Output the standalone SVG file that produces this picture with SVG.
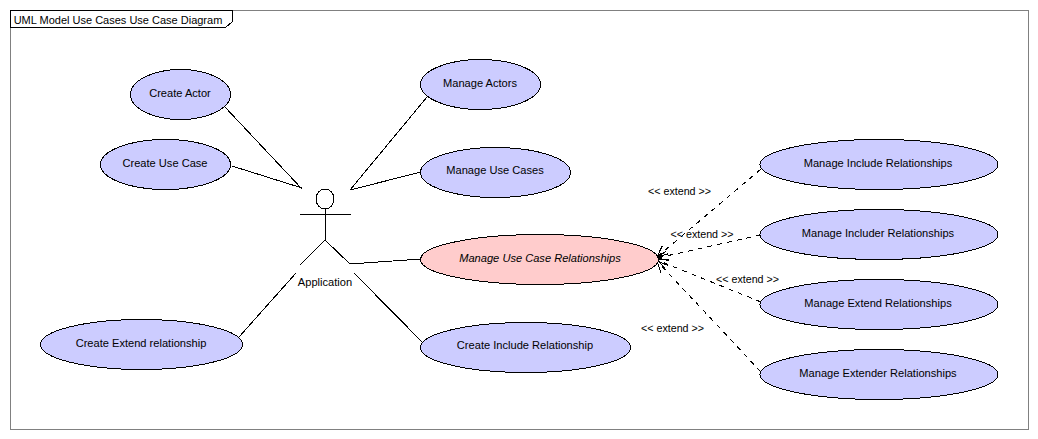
<svg xmlns="http://www.w3.org/2000/svg" width="1038" height="439" viewBox="0 0 1038 439">
<style>
text{font-family:"Liberation Sans",Arial,sans-serif;font-size:11.1px;fill:#000;text-anchor:middle}
.x{font-size:10.7px}
.u{fill:#ccccff;stroke:#000;stroke-width:1;shape-rendering:crispEdges}
.p{fill:#ffcccc;stroke:#000;stroke-width:1;shape-rendering:crispEdges}
.l{fill:none;stroke:#000;stroke-width:1;shape-rendering:crispEdges}
.d{fill:none;stroke:#000;stroke-width:1;stroke-dasharray:5 5;shape-rendering:crispEdges}
</style>
<defs><marker id="a" viewBox="0 0 12 12" refX="11" refY="6" markerWidth="12" markerHeight="12" markerUnits="userSpaceOnUse" orient="auto"><path d="M0 1L11 6L0 11" fill="none" stroke="#000" stroke-width="1" shape-rendering="crispEdges"/></marker></defs>
<rect width="1038" height="439" fill="#fff"/>
<g id="frame">
<rect x="10.500" y="10.500" width="1018" height="419" fill="none" stroke="#808080" shape-rendering="crispEdges"/>
<path class="l" d="M10.500 10.500H232.500V21.500L225.500 27.500H10.500Z" style="fill:#fff"/>
<text x="118" y="24" style="font-size:11px">UML Model Use Cases Use Case Diagram</text>
</g>
<g id="connectors">
<path class="l" d="M224 106L302 189M232 166L302 188M427 97L350 190M421 172L350 190M350 264L421 259M239 337L296 273M354 273L431 351"/>
<path class="d" marker-end="url(#a)" d="M761 169L657 257"/>
<path class="d" marker-end="url(#a)" d="M761 235L657 258"/>
<path class="d" marker-end="url(#a)" d="M761 302L657 260"/>
<path class="d" marker-end="url(#a)" d="M761 372L657 261"/>
</g>
<g id="actor">
<ellipse class="l" cx="325" cy="199" rx="9" ry="10"/>
<path class="l" d="M325 209V240M300 214H351M325 240L300 265M325 240L350 264"/>
<text x="325" y="286">Application</text>
</g>
<g id="create-actor"><ellipse class="u" cx="180.500" cy="94.500" rx="50" ry="25"/><text x="180" y="97">Create Actor</text></g>
<g id="create-use-case"><ellipse class="u" cx="165.500" cy="164.500" rx="65" ry="25"/><text x="165" y="167">Create Use Case</text></g>
<g id="create-extend"><ellipse class="u" cx="141.500" cy="344.500" rx="101" ry="25"/><text x="141" y="347">Create Extend relationship</text></g>
<g id="manage-actors"><ellipse class="u" cx="480.500" cy="84.500" rx="60" ry="25"/><text x="480" y="87">Manage Actors</text></g>
<g id="manage-use-cases"><ellipse class="u" cx="495.500" cy="172.500" rx="75" ry="25"/><text x="495" y="174">Manage Use Cases</text></g>
<g id="manage-relationships"><ellipse class="p" cx="539.500" cy="259.500" rx="119" ry="25"/><text x="540" y="262" font-style="italic">Manage Use Case Relationships</text></g>
<g id="create-include"><ellipse class="u" cx="525.500" cy="347.500" rx="105" ry="25"/><text x="525" y="349">Create Include Relationship</text></g>
<g id="manage-include"><ellipse class="u" cx="879" cy="164.500" rx="119" ry="25"/><text x="878" y="167">Manage Include Relationships</text></g>
<g id="manage-includer"><ellipse class="u" cx="879" cy="234.500" rx="119" ry="25"/><text x="878" y="237">Manage Includer Relationships</text></g>
<g id="manage-extend"><ellipse class="u" cx="879" cy="304.500" rx="119" ry="25"/><text x="878" y="307">Manage Extend Relationships</text></g>
<g id="manage-extender"><ellipse class="u" cx="879" cy="374.500" rx="119" ry="25"/><text x="878" y="377">Manage Extender Relationships</text></g>
<g id="labels">
<text class="x" x="679.500" y="195">&lt;&lt; extend &gt;&gt;</text>
<text class="x" x="702" y="238">&lt;&lt; extend &gt;&gt;</text>
<text class="x" x="747.500" y="283">&lt;&lt; extend &gt;&gt;</text>
<text class="x" x="672.500" y="332">&lt;&lt; extend &gt;&gt;</text>
</g>
</svg>
